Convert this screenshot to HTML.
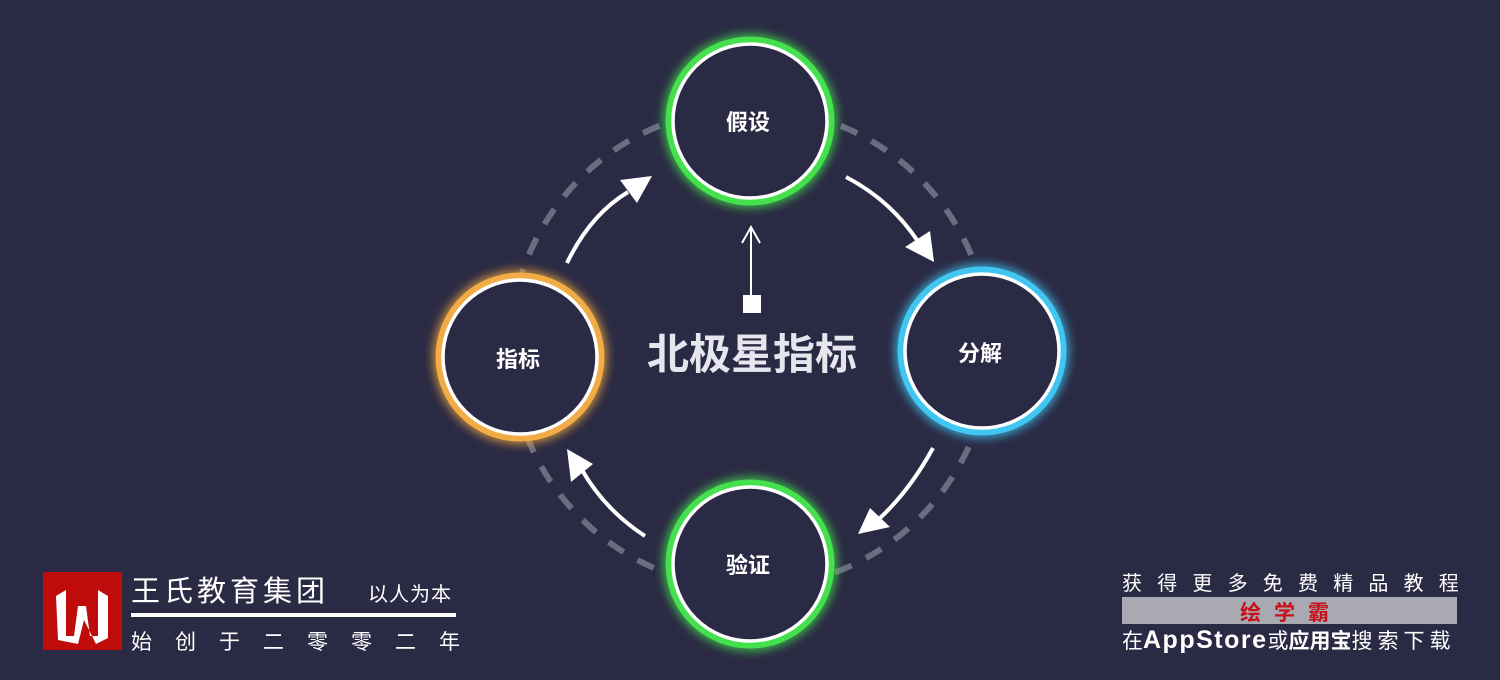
<!DOCTYPE html>
<html><head><meta charset="utf-8"><style>
body{margin:0;width:1500px;height:680px;background:#2b2a44;overflow:hidden;position:relative;font-family:"Liberation Sans","Noto Sans CJK SC",sans-serif;}
.t{position:absolute;color:#fff;white-space:nowrap;}
</style></head><body>
<svg width="1500" height="680" style="position:absolute;left:0;top:0">
<defs>
<filter id="g" x="-50%" y="-50%" width="200%" height="200%"><feGaussianBlur stdDeviation="5"/></filter>
</defs>
<circle cx="750" cy="348" r="240" fill="none" stroke="#6b6c80" stroke-width="6" stroke-dasharray="18 16"/>
<g fill="#2b2a44">
<circle cx="750" cy="121" r="84"/><circle cx="520" cy="357" r="84"/><circle cx="982" cy="351" r="84"/><circle cx="750" cy="564" r="84"/>
</g>
<g fill="none" stroke-width="8" filter="url(#g)">
<circle cx="750" cy="121" r="82" stroke="#3fe04a"/><circle cx="520" cy="357" r="82" stroke="#f0a93c"/><circle cx="982" cy="351" r="82" stroke="#3dc4f0"/><circle cx="750" cy="564" r="82" stroke="#3fe04a"/>
</g>
<g fill="#2b2a44" stroke-width="7">
<circle cx="750" cy="121" r="81" stroke="#44e04d"/><circle cx="520" cy="357" r="81" stroke="#f2ac45"/><circle cx="982" cy="351" r="81" stroke="#41c6f2"/><circle cx="750" cy="564" r="81" stroke="#44e04d"/>
</g>
<g fill="none" stroke="#fff" stroke-width="3.5">
<circle cx="750" cy="121" r="77"/><circle cx="520" cy="357" r="77"/><circle cx="982" cy="351" r="77"/><circle cx="750" cy="564" r="77"/>
</g>
<g fill="none" stroke="#fff" stroke-width="4">
<path d="M567,263 Q590,215 628,192"/>
<path d="M846,177 Q890,200 917,240"/>
<path d="M933,448 Q910,490 880,518"/>
<path d="M645,536 Q605,510 582,470"/>
</g>
<g fill="#fff">
<polygon points="652,176 620,180 637,203"/>
<polygon points="934,262 905,247 930,231"/>
<polygon points="858,534 870,508 890,527"/>
<polygon points="567,449 593,464 571,482"/>
</g>
<line x1="751" y1="296" x2="751" y2="228" stroke="#fff" stroke-width="2"/>
<path d="M742,243 L751,227 L760,243" fill="none" stroke="#fff" stroke-width="2"/>
<rect x="743" y="295" width="18" height="18" fill="#fff"/>
<rect x="43" y="572" width="79" height="78" fill="#c00b0b"/>
<path d="M56,596 L66,590 L66,636 L74,636 L78,606 L86,606 L90,636 L98,636 L98,590 L108,596 L108,638 L96,644 L84,620 L78,644 L58,640 Z" fill="#fff"/>
<rect x="131" y="613" width="325" height="4" fill="#fff"/>
<rect x="1122" y="597" width="335" height="27" fill="#a9a9b2"/>
</svg>
<div class="t" style="left:726px;top:105px;font-size:22px;font-weight:bold">假设</div>
<div class="t" style="left:496px;top:342px;font-size:22px;font-weight:bold">指标</div>
<div class="t" style="left:958px;top:336px;font-size:22px;font-weight:bold">分解</div>
<div class="t" style="left:726px;top:548px;font-size:22px;font-weight:bold">验证</div>
<div class="t" style="left:647px;top:321px;font-size:42px;font-weight:bold;color:#e6e6ee">北极星指标</div>
<div class="t" style="left:131px;top:568px;font-size:29px;letter-spacing:4px">王氏教育集团</div>
<div class="t" style="left:368px;top:578px;font-size:20px;letter-spacing:1px">以人为本</div>
<div class="t" style="left:131px;top:626px;font-size:21px;letter-spacing:23px">始创于二零零二年</div>
<div class="t" style="left:1122px;top:567px;font-size:20px;letter-spacing:15.2px">获得更多免费精品教程</div>
<div class="t" style="left:1240px;top:597px;font-size:21px;font-weight:bold;color:#c8101a;letter-spacing:13px">绘学霸</div>
<div class="t" style="left:1122px;top:625px;font-size:21px"><span>在</span><span style="font-size:25px;font-weight:bold;letter-spacing:1.5px">AppStore</span><span>或</span><b>应用宝</b><span style="letter-spacing:5px">搜索下载</span></div>
</body></html>
